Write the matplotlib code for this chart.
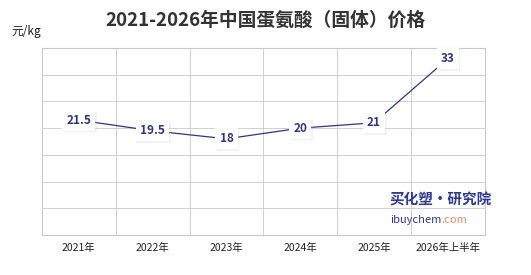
import matplotlib.pyplot as plt
import matplotlib.patheffects as pe

plt.rcParams['font.family'] = ['Noto Sans CJK SC', 'DejaVu Sans']

years = ["2021年", "2022年", "2023年", "2024年", "2025年", "2026年上半年"]
prices = [21.5, 19.5, 18, 20, 21, 33]

navy = "#2f3580"

fig = plt.figure(figsize=(5.31, 2.75), dpi=100)
ax = fig.add_axes([0.079, 0.1455, 0.834, 0.68])

x = list(range(len(years)))
ax.plot(x, prices, color=navy, lw=0.9, zorder=2)

for xi, v in zip(x, prices):
    t = ax.text(xi, v, f"{v:g}", ha="center", va="center", fontsize=8.5,
                fontweight="bold", color=navy, zorder=4,
                bbox=dict(boxstyle="square,pad=0.35", fc="white", ec="none"))
    # soft shadow under the label box
    t.get_bbox_patch().set_path_effects(
        [pe.SimplePatchShadow(offset=(1, -1.2), shadow_rgbFace="#cccccc", alpha=0.25),
         pe.Normal()])

ax.set_xlim(-0.5, len(years) - 0.5)
ax.set_ylim(0, 35)
ax.set_yticks(range(0, 36, 5))
ax.set_yticklabels([])
ax.set_xticks([i - 0.5 for i in range(len(years) + 1)])
ax.set_xticklabels([])
ax.set_xticks(x, minor=True)
ax.set_xticklabels(years, minor=True, fontsize=7.5, color="#222222")
ax.tick_params(which="both", length=0, pad=6)
ax.grid(True, which="major", color="#d0d0d0", lw=0.7)
for s in ax.spines.values():
    s.set_color("#c8c8c8")

fig.text(0.5, 0.925, "2021-2026年中国蛋氨酸（固体）价格", ha="center", va="center",
         fontsize=13.5, fontweight="bold", color="#333333")
fig.text(0.022, 0.885, "元/kg", ha="left", va="center", fontsize=8.5, color="#222222")

# watermark
fig.text(0.733, 0.275, "买化塑·研究院", ha="left", va="center", fontsize=10.5,
         fontweight="bold", style="italic", color="#2f3a8f")
wm = fig.text(0.735, 0.2, "ibuychem", ha="left", va="center", fontsize=8, color="#2f3a8f")
ax.annotate(".com", xy=(1, 0.5), xycoords=wm, va="center", ha="left",
            fontsize=8, color="#f08a6a", annotation_clip=False)

fig.savefig("out.png", dpi=100)
plt.close(fig)
